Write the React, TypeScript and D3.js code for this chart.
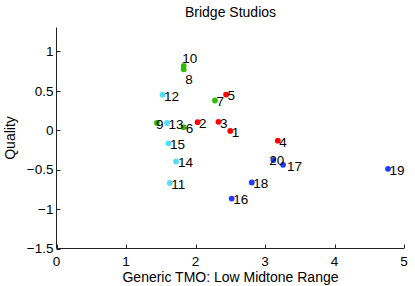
import React from "react";
import * as d3 from "d3";

const ids = [1, 2, 3, 4, 5, 6, 7, 8, 9, 10, 11, 12, 13, 14, 15, 16, 17, 18, 19, 20];
const xValues = [2.5, 2.03, 2.33, 3.185, 2.44, 1.83, 2.28, 1.83, 1.445, 1.83, 1.63, 1.525, 1.59, 1.72, 1.61, 2.52, 3.26, 2.81, 4.77, 3.12];
const yValues = [-0.01, 0.1, 0.105, -0.134, 0.45, 0.036, 0.375, 0.77, 0.09, 0.814, -0.67, 0.448, 0.09, -0.397, -0.168, -0.868, -0.44, -0.664, -0.49, -0.38];
const groups = ["red", "red", "red", "red", "red", "green", "green", "green", "green", "green", "cyan", "cyan", "cyan", "cyan", "cyan", "blue", "blue", "blue", "blue", "blue"];
const xTicks = [0, 1, 2, 3, 4, 5];
const yTicks = [1, 0.5, 0, -0.5, -1, -1.5];
const title = "Bridge Studios";
const xLabel = "Generic TMO: Low Midtone Range";
const yLabel = "Quality";

const colors: Record<string, string> = {
  red: "#ff0000",
  green: "#33bb00",
  cyan: "#55ddff",
  blue: "#1f3cff",
};

// label nudges (pixels) for overlapping points
const labelNudge: Record<number, [number, number]> = {
  10: [-1.5, -9],
  8: [1.5, 9],
  20: [-4, -1],
  17: [4, 0],
  6: [2, 0],
  14: [2, 0],
  9: [-1, 0],
};

const FONT = "'Liberation Sans', Arial, Helvetica, sans-serif";

export default function App() {
  const W = 415;
  const H = 286;
  const x = d3.scaleLinear().domain([0, 5]).range([56.5, 404]);
  const y = d3.scaleLinear().domain([-1.5, 1.3]).range([248.5, 27.5]);
  const fmt = (v: number) => (v < 0 ? "\u2212" + String(Math.abs(v)) : String(v));
  const axisColor = "#222";
  const x0 = x(0);
  const yb = y(-1.5);

  return (
    <svg
      width={W}
      height={H}
      style={{ position: "absolute", left: 0, top: 0, background: "#fff" }}
      fontFamily={FONT}
    >
      <rect width={W} height={H} fill="#fff" />
      {/* axes */}
      <line x1={x0} x2={x0} y1={y(1.3)} y2={yb} stroke={axisColor} strokeWidth={1} />
      <line x1={x0} x2={x(5)} y1={yb} y2={yb} stroke={axisColor} strokeWidth={1} />
      {xTicks.map((t) => (
        <g key={"xt" + t}>
          <line x1={Math.round(x(t)) + 0.5} x2={Math.round(x(t)) + 0.5} y1={yb} y2={yb - 4} stroke={axisColor} />
          <text x={x(t)} y={266} fontSize={13.5} textAnchor="middle" fill="#000">
            {fmt(t)}
          </text>
        </g>
      ))}
      {yTicks.map((t) => (
        <g key={"yt" + t}>
          <line x1={x0} x2={x0 + 4} y1={Math.round(y(t)) + 0.5} y2={Math.round(y(t)) + 0.5} stroke={axisColor} />
          <text x={53.5} y={y(t)} dy="0.36em" fontSize={13.5} textAnchor="end" fill="#000">
            {fmt(t)}
          </text>
        </g>
      ))}
      {/* points */}
      {ids.map((id, i) => (
        <circle key={"p" + id} cx={x(xValues[i])} cy={y(yValues[i])} r={2.9} fill={colors[groups[i]]} />
      ))}
      {ids.map((id, i) => {
        const [dx, dy] = labelNudge[id] || [1.5, 0];
        return (
          <text
            key={"l" + id}
            x={x(xValues[i]) + dx}
            y={y(yValues[i]) + dy + 1}
            dy="0.36em"
            fontSize={13.5}
            fill="#000"
          >
            {id}
          </text>
        );
      })}
      {/* titles */}
      <text x={230.5} y={16.5} fontSize={14} textAnchor="middle" fill="#000">
        {title}
      </text>
      <text x={230.5} y={282} fontSize={14} textAnchor="middle" fill="#000">
        {xLabel}
      </text>
      <text transform={`translate(15,138) rotate(-90)`} fontSize={14} textAnchor="middle" fill="#000">
        {yLabel}
      </text>
    </svg>
  );
}
